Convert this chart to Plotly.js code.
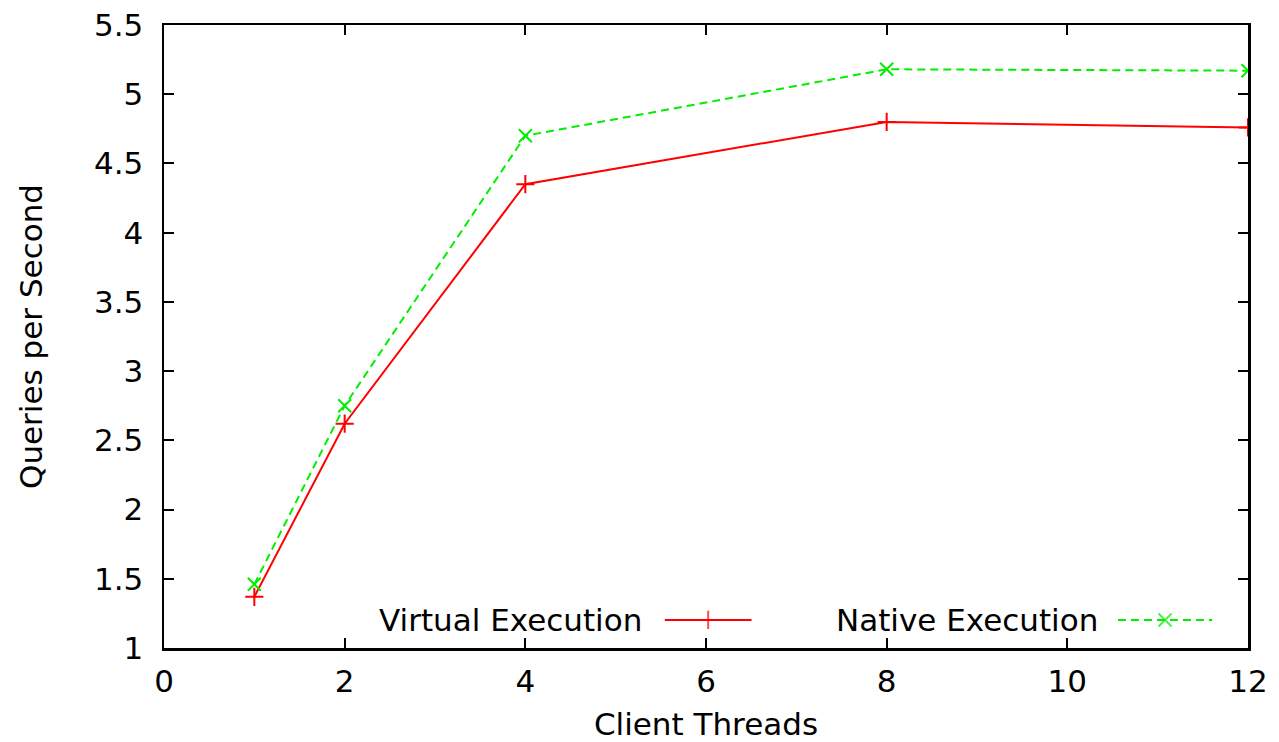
<!DOCTYPE html>
<html>
<head>
<meta charset="utf-8">
<script src="https://cdn.plot.ly/plotly-3.0.1.min.js"></script>
<style>
  html, body { margin: 0; padding: 0; background: #fff; }
  #chart { width: 1279px; height: 742px; }
</style>
</head>
<body>
<div id="chart"></div>
<script>
// Throughput measurements per number of client threads
const clientThreads = [1, 2, 4, 8, 12];
const virtualQps = [1.37, 2.62, 4.35, 4.80, 4.76];
const nativeQps = [1.46, 2.75, 4.70, 5.18, 5.17];

const seriesNames = ['Virtual Execution', 'Native Execution'];
const xTicks = [0, 2, 4, 6, 8, 10, 12];
const yTicks = [1, 1.5, 2, 2.5, 3, 3.5, 4, 4.5, 5, 5.5];

const RED = '#ff0000';
const GREEN = '#00ee00';
const FONT = 'DejaVu Sans, sans-serif';
const FS = 31;

const traces = [
  {
    x: clientThreads, y: virtualQps, name: seriesNames[0],
    mode: 'lines+markers', type: 'scatter',
    line: { color: RED, width: 2 },
    marker: { symbol: 'cross-thin', size: 13, line: { color: RED, width: 2 } }
  },
  {
    x: clientThreads, y: nativeQps, name: seriesNames[1],
    mode: 'lines+markers', type: 'scatter',
    line: { color: GREEN, width: 2, dash: '8px,5px' },
    marker: { symbol: 'x-thin', size: 13, line: { color: GREEN, width: 2 } }
  },
  // key samples drawn on an overlay axis spanning the plot area (0..1)
  {
    x: [0.462, 0.502, 0.542], y: [0.045, 0.045, 0.045],
    xaxis: 'x2', yaxis: 'y2', showlegend: false, hoverinfo: 'skip',
    mode: 'lines+markers', type: 'scatter',
    line: { color: RED, width: 2 },
    marker: { symbol: 'cross-thin', size: [0, 13, 0], line: { color: RED, width: 2 } }
  },
  {
    x: [0.880, 0.9235, 0.967], y: [0.045, 0.045, 0.045],
    xaxis: 'x2', yaxis: 'y2', showlegend: false, hoverinfo: 'skip',
    mode: 'lines+markers', type: 'scatter',
    line: { color: GREEN, width: 2, dash: '8px,5px' },
    marker: { symbol: 'x-thin', size: [0, 13, 0], line: { color: GREEN, width: 2 } }
  }
];

const axisCommon = {
  showgrid: false, zeroline: false,
  showline: true, linecolor: '#000', linewidth: 2.5,
  mirror: 'ticks', ticks: 'inside', ticklen: 10, tickwidth: 2, tickcolor: '#000',
  tickfont: { family: FONT, size: FS, color: '#000' }
};

const layout = {
  width: 1279, height: 742,
  margin: { l: 164, r: 31, t: 25, b: 94 },
  paper_bgcolor: '#fff', plot_bgcolor: '#fff',
  showlegend: false,
  font: { family: FONT, color: '#000' },
  xaxis: Object.assign({}, axisCommon, {
    range: [0, 12], tickmode: 'array', tickvals: xTicks,
    ticklabelstandoff: 4,
    title: { text: 'Client Threads', font: { family: FONT, size: FS, color: '#000' }, standoff: 18 }
  }),
  yaxis: Object.assign({}, axisCommon, {
    range: [1, 5.5], tickmode: 'array', tickvals: yTicks,
    ticklabelstandoff: 12,
    title: { text: 'Queries per Second', font: { family: FONT, size: FS, color: '#000' }, standoff: 42 }
  }),
  xaxis2: { overlaying: 'x', range: [0, 1], visible: false, fixedrange: true },
  yaxis2: { overlaying: 'y', range: [0, 1], visible: false, fixedrange: true },
  annotations: [
    { xref: 'paper', yref: 'paper', x: 0.443, y: 0.045, xanchor: 'right', yanchor: 'middle',
      text: seriesNames[0], showarrow: false, font: { family: FONT, size: FS, color: '#000' } },
    { xref: 'paper', yref: 'paper', x: 0.8635, y: 0.045, xanchor: 'right', yanchor: 'middle',
      text: seriesNames[1], showarrow: false, font: { family: FONT, size: FS, color: '#000' } }
  ]
};

Plotly.newPlot('chart', traces, layout, { staticPlot: true, displayModeBar: false });
</script>
</body>
</html>
